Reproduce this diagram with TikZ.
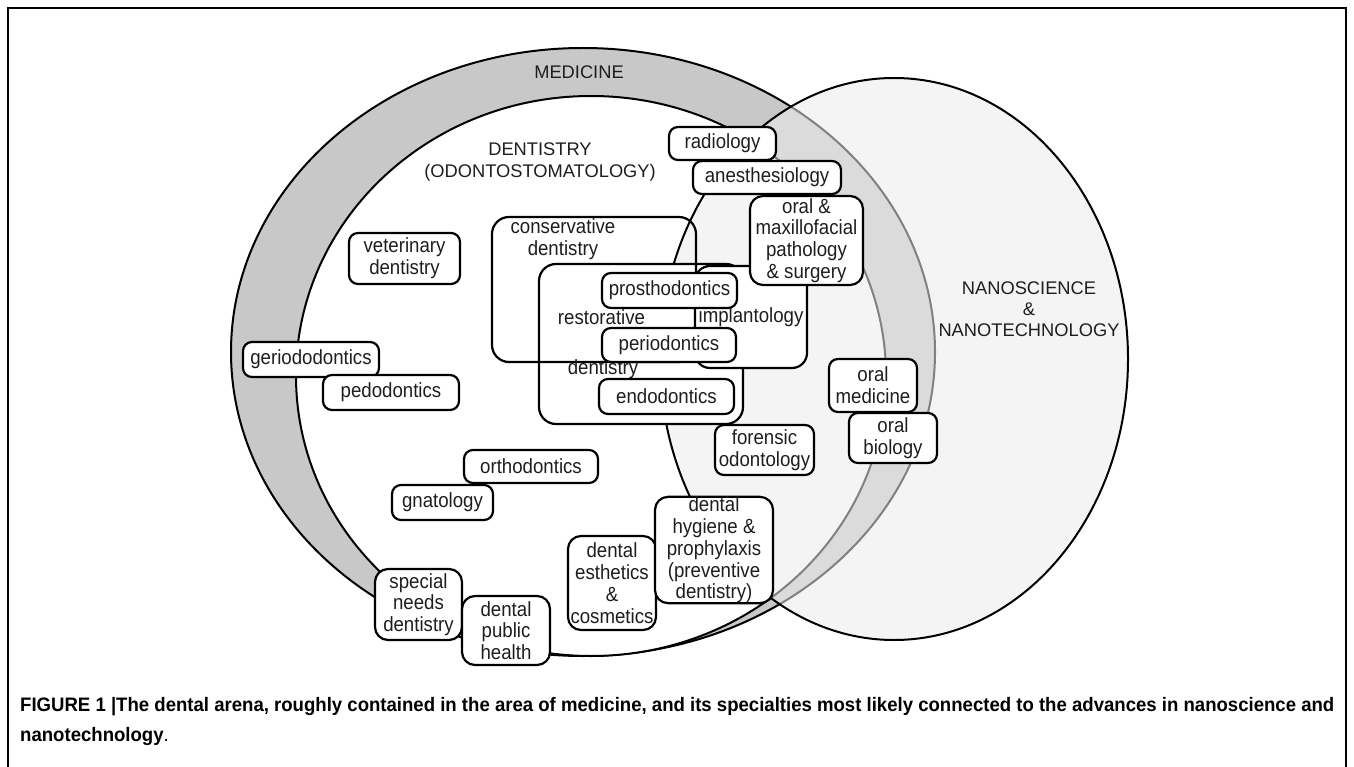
\documentclass[tikz,border=0pt]{standalone}
\usepackage{fontspec}
\setmainfont{Liberation Sans}
\newfontfamily\diagfont{Liberation Sans}[FakeStretch=0.91]
\usepackage{graphicx}
\definecolor{ringgray}{HTML}{C8C8C8}
\definecolor{nanofill}{HTML}{EBEBEB}
\definecolor{txt}{HTML}{1E1E1E}
\newcommand\boxfont{\diagfont\fontsize{20.5}{21.8}\selectfont}
\newcommand\capsfont{\fontsize{18.3}{21.5}\selectfont}
\newcommand\captionfont{\fontsize{19.5}{30}\selectfont\bfseries}
\tikzset{
  sbox/.style={draw=black, line width=2.2pt, fill=white, rounded corners=9pt,
    align=center, inner sep=0pt, font=\boxfont, text=txt},
  rbox/.style={sbox, rounded corners=13pt},
  bigbox/.style={draw=black, line width=2.2pt, rounded corners=17pt, inner sep=0pt},
  lbl/.style={inner sep=0pt, align=center, font=\capsfont, text=txt},
  blbl/.style={inner sep=0pt, align=center, font=\boxfont, text=txt},
}
\begin{document}
\begin{tikzpicture}[x=1pt,y=-1pt]
\useasboundingbox (0,0) rectangle (1354,767);
\fill[white] (0,0) rectangle (1354,767);
% frame
\draw[line width=1.5pt] (8,767) -- (8,8) -- (1346,8) -- (1346,767);
% medicine and dentistry
\draw[line width=2pt, fill=ringgray] (583,352) ellipse [x radius=352, y radius=304];
\draw[line width=2pt, fill=white] (591,376) ellipse [x radius=295, y radius=280];
% nanoscience
\fill[nanofill, fill opacity=0.55] (894,359) ellipse [x radius=234, y radius=281];
\draw[line width=2pt] (894,359) ellipse [x radius=234, y radius=281];
% big boxes
\node[bigbox, fill=white, minimum width=204pt, minimum height=160pt] (restorative) at (641,344) {};
\node[bigbox, minimum width=204pt, minimum height=145pt] (conservative) at (594,289.5) {};
\node[bigbox, fill=white, rounded corners=15pt, minimum width=112pt, minimum height=102pt, font=\boxfont, text=txt] (implantology) at (751,317) {implantology};
\node[blbl] (consText) at (563,239) {conservative\\dentistry};
\node[blbl] (restText) at (601.5,317) {restorative};
\node[blbl] (restText2) at (603,369) {dentistry};
% small boxes
\node[sbox, minimum width=135pt, minimum height=35pt] (prostho) at (669.5,290.5) {prosthodontics};
\node[sbox, minimum width=134pt, minimum height=34pt] (perio) at (669,345) {periodontics};
\node[sbox, minimum width=135pt, minimum height=35pt] (endo) at (666.5,396.5) {endodontics};
\node[sbox, minimum width=107pt, minimum height=33pt] (radiology) at (722.5,143.5) {radiology};
\node[sbox, minimum width=148pt, minimum height=33pt] (anesth) at (767,177.5) {anesthesiology};
\node[rbox, minimum width=113pt, minimum height=89pt] (oralmax) at (806.5,240.5) {oral \&\\maxillofacial\\pathology\\\& surgery};
\node[sbox, minimum width=111pt, minimum height=51pt] (vet) at (404.5,258.5) {veterinary\\dentistry};
\node[sbox, minimum width=136pt, minimum height=35pt] (gerio) at (311,359.5) {geriododontics};
\node[sbox, minimum width=136pt, minimum height=35pt] (pedo) at (391,392.5) {pedodontics};
\node[sbox, minimum width=134pt, minimum height=33pt] (ortho) at (531,466.5) {orthodontics};
\node[sbox, minimum width=101pt, minimum height=35pt] (gnato) at (442.5,502.5) {gnatology};
\node[rbox, minimum width=87pt, minimum height=71pt] (special) at (418.5,604.5) {special\\needs\\dentistry};
\node[rbox, minimum width=88pt, minimum height=69pt] (public) at (506,630.5) {dental\\public\\health};
\node[rbox, minimum width=88pt, minimum height=94pt] (esthetics) at (612,583) {dental\\esthetics\\\&\\cosmetics};
\node[rbox, minimum width=118pt, minimum height=106pt] (hygiene) at (714,550) {dental\\hygiene \&\\prophylaxis\\(preventive\\dentistry)};
\node[sbox, minimum width=99pt, minimum height=50pt] (forensic) at (764.5,450) {forensic\\odontology};
\node[sbox, minimum width=88pt, minimum height=53pt] (oralmed) at (873,385.5) {oral\\medicine};
\node[sbox, minimum width=88pt, minimum height=50pt] (oralbio) at (893,438) {oral\\biology};
% labels
\node[lbl] (medicine) at (579,72) {MEDICINE};
\node[lbl, font=\fontsize{18.3}{22}\selectfont] (dentistry) at (540,162) {DENTISTRY\\(ODONTOSTOMATOLOGY)};
\node[lbl, font=\fontsize{18.3}{21}\selectfont] (nano) at (1029,309) {NANOSCIENCE\\\&\\NANOTECHNOLOGY};
% caption
\node[anchor=base west, inner sep=0pt, text=black] (caption) at (20,711)
  {\resizebox{1314pt}{\height}{\captionfont\begin{tabular}[t]{@{}l@{}}FIGURE 1 \textbar The dental arena, roughly contained in the area of medicine, and its specialties most likely connected to the advances in nanoscience and\\nanotechnology{\mdseries .}\end{tabular}}};
\end{tikzpicture}
\end{document}
